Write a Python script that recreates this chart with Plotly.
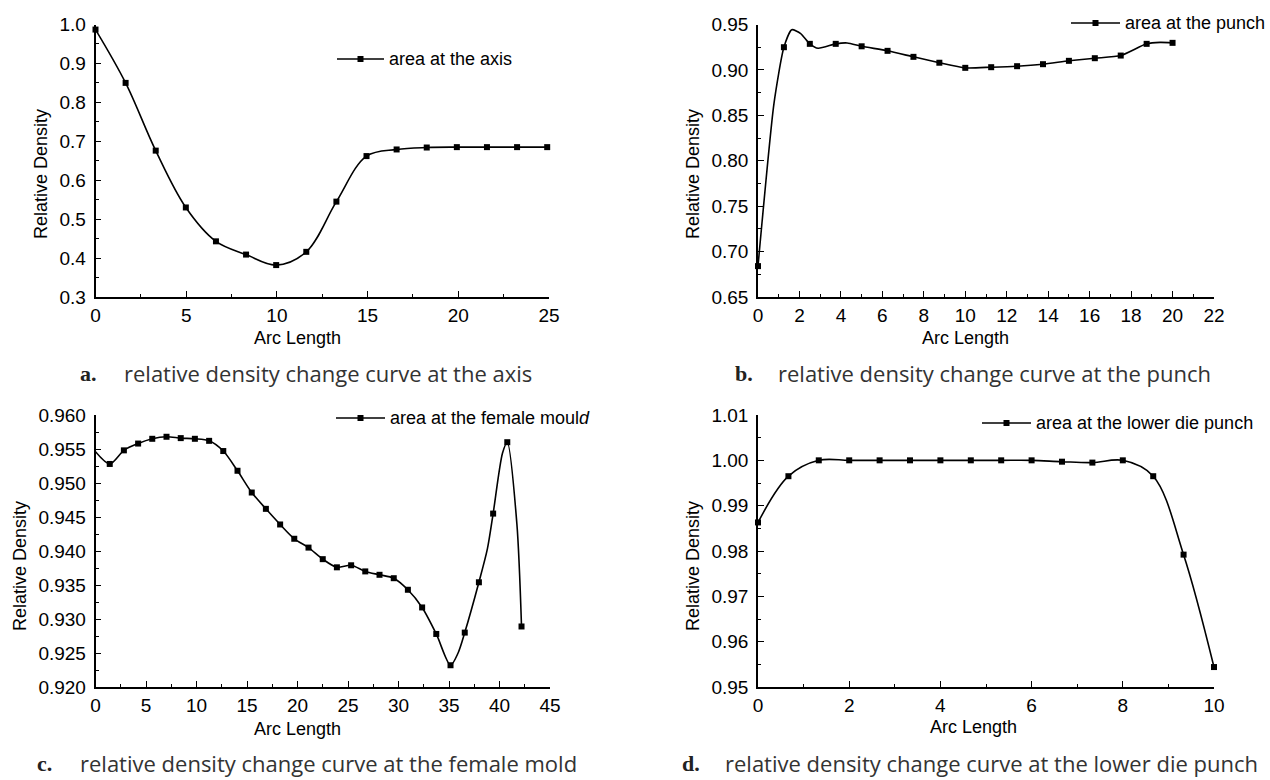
import plotly.graph_objects as go

# ---- data -------------------------------------------------------------
# (a) area at the axis
axis_arc = [0, 1.66, 3.32, 4.98, 6.64, 8.30, 9.96, 11.62, 13.28, 14.94,
            16.60, 18.26, 19.92, 21.58, 23.24, 24.90]
axis_density = [0.987, 0.850, 0.676, 0.530, 0.443, 0.409, 0.382, 0.416,
                0.545, 0.662, 0.679, 0.684, 0.685, 0.685, 0.685, 0.685]

# (b) area at the punch: sampled points (markers) and the full curve
punch_arc = [0, 1.25, 2.5, 3.75, 5.0, 6.25, 7.5, 8.75, 10.0, 11.25, 12.5,
             13.75, 15.0, 16.25, 17.5, 18.75, 20.0]
punch_density = [0.684, 0.925, 0.9287, 0.9287, 0.926, 0.921, 0.9144, 0.9079,
                 0.9023, 0.903, 0.9041, 0.9063, 0.910, 0.9129, 0.9158,
                 0.9287, 0.9298]
punch_curve_arc = [0, 0.77, 1.25, 1.63, 2.06, 2.5, 2.9, 3.75, 4.3, 5.0, 6.25,
                   7.5, 8.75, 10.0, 11.25, 12.5, 13.75, 15.0, 16.25, 17.5,
                   18.75, 19.4, 20.0]
punch_curve_density = [0.684, 0.863, 0.925, 0.9443, 0.940, 0.9287, 0.9238,
                       0.9287, 0.9297, 0.926, 0.921, 0.9144, 0.9079, 0.9023,
                       0.903, 0.9041, 0.9063, 0.910, 0.9129, 0.9158, 0.9287,
                       0.9303, 0.9298]

# (c) area at the female mould
mould_arc = [1.41, 2.81, 4.22, 5.62, 7.03, 8.44, 9.84, 11.25, 12.65, 14.06,
             15.47, 16.87, 18.28, 19.68, 21.09, 22.50, 23.90, 25.31, 26.71,
             28.12, 29.53, 30.93, 32.34, 33.74, 35.15, 36.56, 37.96, 39.37,
             40.77, 42.18]
mould_density = [0.9528, 0.9548, 0.9558, 0.9565, 0.9568, 0.9566, 0.9565,
                 0.9562, 0.9547, 0.9518, 0.9486, 0.9462, 0.9439, 0.9418,
                 0.9405, 0.9388, 0.9376, 0.9379, 0.9370, 0.9365, 0.9360,
                 0.9343, 0.9317, 0.9278, 0.9232, 0.9280, 0.9354, 0.9455,
                 0.9560, 0.9289]
mould_curve_arc = [0] + mould_arc[:25] + [35.9, 36.56, 37.96, 38.8, 39.37,
                                          40.3, 40.77, 41.72, 42.18]
mould_curve_density = [0.9546] + mould_density[:25] + [0.9250, 0.9280, 0.9354,
                                                       0.9403, 0.9455, 0.9544,
                                                       0.9560, 0.9440, 0.9289]

# (d) area at the lower die punch
lower_arc = [0, 0.667, 1.333, 2.0, 2.667, 3.333, 4.0, 4.667, 5.333, 6.0,
             6.667, 7.333, 8.0, 8.667, 9.333, 10.0]
lower_density = [0.9863, 0.9965, 1.0000, 1.0000, 1.0000, 1.0000, 1.0000,
                 1.0000, 1.0000, 1.0000, 0.9997, 0.9995, 1.0000, 0.9965,
                 0.9792, 0.9544]

legend_names = ["area at the axis", "area at the punch",
                "area at the female moul<i>d</i>",
                "area at the lower die punch"]
caption_labels = ["a.", "b.", "c.", "d."]
caption_texts = ["relative density change curve at the axis",
                 "relative density change curve at the punch",
                 "relative density change curve at the female mold",
                 "relative density change curve at the lower die punch"]

# ---- layout helpers ---------------------------------------------------
W, H = 1270, 780


def px(x):
    return x / W


def py(y):
    return 1 - y / H


FONT = "Liberation Sans, Arial, sans-serif"
INK = "#000000"

fig = go.Figure()

panels = [
    dict(xa="x", ya="y", cx=axis_arc, cy=axis_density, mx=axis_arc, my=axis_density,
         xr=[0, 25], xd=5, yr=[0.3, 1.0], yd=0.1, fmt=".1f",
         dom_x=(95.5, 549), dom_y=(24.5, 297), smooth=1.0),
    dict(xa="x2", ya="y2", cx=punch_curve_arc, cy=punch_curve_density,
         mx=punch_arc, my=punch_density,
         xr=[0, 22], xd=2, yr=[0.65, 0.95], yd=0.05, fmt=".2f",
         dom_x=(758, 1214), dom_y=(24.5, 297), smooth=0.6),
    dict(xa="x3", ya="y3", cx=mould_curve_arc, cy=mould_curve_density,
         mx=mould_arc, my=mould_density,
         xr=[0, 45], xd=5, yr=[0.92, 0.96], yd=0.005, fmt=".3f",
         dom_x=(95.5, 550), dom_y=(415, 687), smooth=0.8),
    dict(xa="x4", ya="y4", cx=lower_arc, cy=lower_density, mx=lower_arc, my=lower_density,
         xr=[0, 10], xd=2, yr=[0.95, 1.01], yd=0.01, fmt=".2f",
         dom_x=(758, 1214), dom_y=(415, 687), smooth=1.0),
]

for p in panels:
    fig.add_trace(go.Scatter(
        x=p["cx"], y=p["cy"], xaxis=p["xa"], yaxis=p["ya"], mode="lines",
        line=dict(color=INK, width=1.6, shape="spline", smoothing=p["smooth"]),
        showlegend=False, hoverinfo="skip"))
    fig.add_trace(go.Scatter(
        x=p["mx"], y=p["my"], xaxis=p["xa"], yaxis=p["ya"], mode="markers",
        marker=dict(symbol="square", size=6, color=INK),
        cliponaxis=False, showlegend=False))

axis_common = dict(showline=True, linecolor=INK, linewidth=1.5, ticks="inside",
                   ticklen=6, tickwidth=1.3, tickcolor=INK, showgrid=False,
                   zeroline=False, mirror=False, automargin=False,
                   tickfont=dict(family=FONT, size=19, color=INK))

for i, p in enumerate(panels):
    sfx = "" if i == 0 else str(i + 1)
    fig.layout["xaxis" + sfx] = dict(
        axis_common, domain=[px(p["dom_x"][0]), px(p["dom_x"][1])],
        anchor=p["ya"], range=p["xr"], dtick=p["xd"], tick0=0,
        minor=dict(ticks="inside", ticklen=3.5, tickwidth=1.2, tickcolor=INK,
                   dtick=p["xd"] / 2),
        ticklabelstandoff=0)
    fig.layout["yaxis" + sfx] = dict(
        axis_common, domain=[py(p["dom_y"][1]), py(p["dom_y"][0])],
        anchor=p["xa"], range=p["yr"], dtick=p["yd"], tick0=p["yr"][0],
        tickformat=p["fmt"],
        minor=dict(ticks="inside", ticklen=3.5, tickwidth=1.2, tickcolor=INK,
                   dtick=p["yd"] / 2),
        ticklabelstandoff=4)

annotations = []
shapes = []

# axis titles
x_title_pos = [(297, 338), (965, 338), (297, 729), (973, 727)]
y_title_pos = [(41, 174), (693, 174), (20, 566), (693, 566)]
for (xx, yy) in x_title_pos:
    annotations.append(dict(x=px(xx), y=py(yy), xref="paper", yref="paper",
                            text="Arc Length", showarrow=False,
                            xanchor="center", yanchor="middle",
                            font=dict(family=FONT, size=18, color=INK)))
for (xx, yy) in y_title_pos:
    annotations.append(dict(x=px(xx), y=py(yy), xref="paper", yref="paper",
                            text="Relative Density", showarrow=False, textangle=-90,
                            xanchor="center", yanchor="middle",
                            font=dict(family=FONT, size=18, color=INK)))

# legend boxes: line sample with a square marker, then the label
legend_pos = [(337, 384, 59), (1071, 1120, 23), (336, 385, 418), (982, 1031, 423)]
for name, (x0, x1, yy) in zip(legend_names, legend_pos):
    shapes.append(dict(type="line", xref="paper", yref="paper",
                       x0=px(x0), x1=px(x1), y0=py(yy), y1=py(yy),
                       line=dict(color=INK, width=1.5)))
    xm = (x0 + x1) / 2
    shapes.append(dict(type="rect", xref="paper", yref="paper",
                       x0=px(xm - 3), x1=px(xm + 3), y0=py(yy + 3), y1=py(yy - 3),
                       fillcolor=INK, line=dict(width=0)))
    annotations.append(dict(x=px(x1 + 3), y=py(yy), xref="paper", yref="paper",
                            text=name, showarrow=False, xanchor="left",
                            yanchor="middle",
                            font=dict(family=FONT, size=18, color=INK)))

# sub-figure captions
caption_pos = [(78, 122, 373), (733, 776, 373), (35, 78, 763), (680, 723, 763)]
for lab, txt, (xl, xt, yy) in zip(caption_labels, caption_texts, caption_pos):
    annotations.append(dict(x=px(xl), y=py(yy), xref="paper", yref="paper",
                            text="<b>" + lab + "</b>", showarrow=False,
                            xanchor="left", yanchor="middle",
                            font=dict(family="Liberation Serif, serif", size=22,
                                      color="#222222")))
    annotations.append(dict(x=px(xt), y=py(yy), xref="paper", yref="paper",
                            text=txt, showarrow=False, xanchor="left",
                            yanchor="middle",
                            font=dict(family="Open Sans, sans-serif", size=22,
                                      color="#333333")))

fig.update_layout(width=W, height=H, margin=dict(l=0, r=0, t=0, b=0),
                  paper_bgcolor="white", plot_bgcolor="white",
                  annotations=annotations, shapes=shapes, showlegend=False)

fig.write_html("out.html")
